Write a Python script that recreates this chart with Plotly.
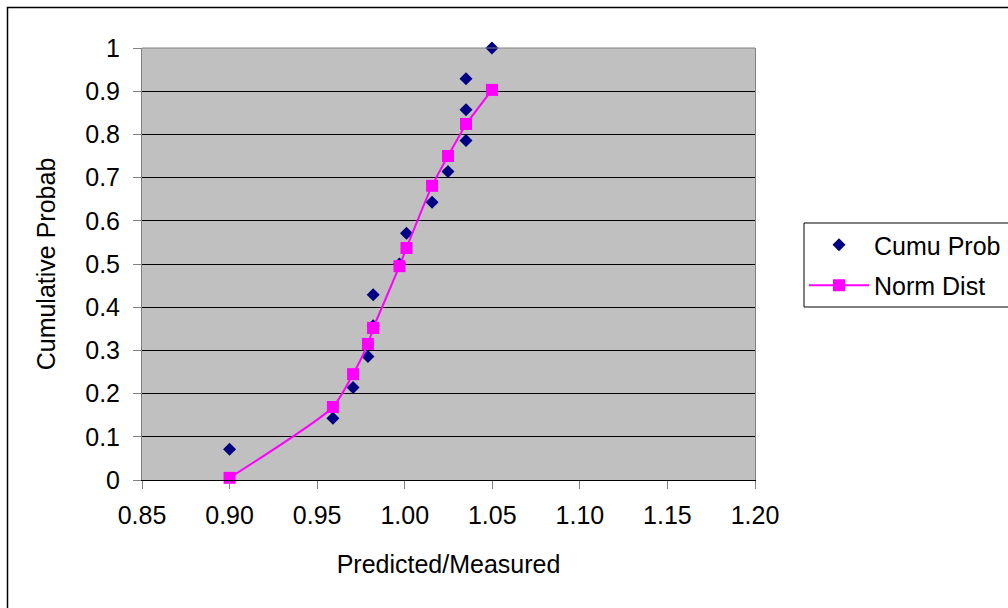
import plotly.graph_objects as go

# Data
ratio = [0.900, 0.959, 0.9705, 0.979, 0.982, 0.982, 0.997, 1.001, 1.0156, 1.0247, 1.035, 1.035, 1.035, 1.0498]
cumu_prob = [0.071, 0.143, 0.214, 0.286, 0.357, 0.429, 0.500, 0.571, 0.643, 0.714, 0.786, 0.857, 0.929, 1.000]
norm_dist = [0.005, 0.169, 0.245, 0.315, 0.352, 0.352, 0.495, 0.537, 0.681, 0.750, 0.824, 0.824, 0.824, 0.903]

x_tickvals = [0.85, 0.90, 0.95, 1.00, 1.05, 1.10, 1.15, 1.20]
x_ticktext = ["0.85", "0.90", "0.95", "1.00", "1.05", "1.10", "1.15", "1.20"]
y_tickvals = [0, 0.1, 0.2, 0.3, 0.4, 0.5, 0.6, 0.7, 0.8, 0.9, 1.0]
y_ticktext = ["0", "0.1", "0.2", "0.3", "0.4", "0.5", "0.6", "0.7", "0.8", "0.9", "1"]

FONT = "Liberation Sans, Arial, sans-serif"
FS = 25

fig = go.Figure()
fig.add_trace(go.Scatter(
    x=ratio, y=cumu_prob, mode="markers", name="Cumu Prob",
    legendgroup="a", cliponaxis=False,
    marker=dict(symbol="diamond", size=10, color="#000080", line=dict(width=0)),
))
fig.add_trace(go.Scatter(
    x=ratio, y=norm_dist, mode="lines+markers", name="Norm Dist",
    legendgroup="b", cliponaxis=False,
    line=dict(color="#FF00FF", width=2, shape="spline", smoothing=0.6),
    marker=dict(symbol="square", size=12, color="#FF00FF", line=dict(width=0)),
))

W, H = 1008, 608
L, R, T, B = 142, 755, 48, 480

def px_x(p):
    return (p - L) / (R - L)

def px_y(p):
    return (B - p) / (B - T)

fig.update_layout(
    width=W, height=H,
    margin=dict(l=L, r=W - R, t=T, b=H - B, pad=0, autoexpand=False),
    paper_bgcolor="white",
    plot_bgcolor="#C0C0C0",
    font=dict(family=FONT, size=FS, color="black"),
    showlegend=True,
    legend=dict(
        x=px_x(804), y=px_y(222), xanchor="left", yanchor="top",
        bgcolor="rgba(0,0,0,0)", borderwidth=0,
        font=dict(family=FONT, size=FS, color="black"),
        traceorder="grouped", tracegroupgap=5,
        itemwidth=60,
    ),
    xaxis=dict(
        range=[0.85, 1.20],
        tickvals=x_tickvals, ticktext=x_ticktext,
        showgrid=False, zeroline=False,
        showline=True, linecolor="black", linewidth=1,
        ticks="outside", ticklen=8, tickcolor="#808080", tickwidth=1,
        ticklabelstandoff=5,
        title=dict(text="Predicted/Measured", standoff=27,
                   font=dict(family=FONT, size=FS, color="black")),
    ),
    yaxis=dict(
        range=[0, 1],
        tickvals=y_tickvals, ticktext=y_ticktext,
        showgrid=True, gridcolor="black", gridwidth=1,
        zeroline=False,
        showline=True, linecolor="#808080", linewidth=1, mirror=True,
        ticks="outside", ticklen=8, tickcolor="#808080", tickwidth=1,
        ticklabelstandoff=8,
        title=dict(text="Cumulative Probab", standoff=22,
                   font=dict(family=FONT, size=FS, color="black")),
    ),
    shapes=[
        # top border of plot area (gray)
        dict(type="line", xref="paper", yref="paper", x0=0, x1=1, y0=1, y1=1,
             line=dict(color="#808080", width=1)),
        # outer chart border
        dict(type="rect", xref="paper", yref="paper",
             x0=px_x(7.5), x1=px_x(1020), y0=px_y(620), y1=px_y(7.5),
             line=dict(color="black", width=1.5), layer="below"),
        # legend box
        dict(type="rect", xref="paper", yref="paper",
             x0=px_x(804), x1=px_x(1030), y0=px_y(307), y1=px_y(223),
             fillcolor="white", line=dict(color="black", width=1), layer="below"),
    ],
)

fig.write_html("out.html")
